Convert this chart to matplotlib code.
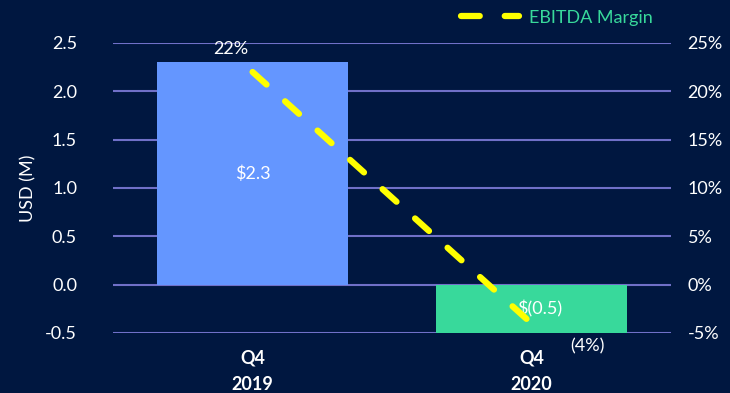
import matplotlib.pyplot as plt
from matplotlib.ticker import FuncFormatter

# data
quarters = ['Q4\n2019', 'Q4\n2020']
ebitda = [2.3, -0.5]
ebitda_labels = ['$2.3', '$(0.5)']
margin = [22, -4]
margin_labels = ['22%', '(4%)']

BG = '#001740'
GRID = '#7070C8'
WHITE = '#FFFFFF'
BAR_COLORS = ['#6496FF', '#38D99B']
FS = 13

plt.rcParams['font.family'] = ['Lato', 'DejaVu Sans']

fig = plt.figure(figsize=(7.3, 3.93), dpi=100, facecolor=BG)
ax = fig.add_axes([0.155, 0.1527, 0.764, 0.7379], facecolor=BG)
x = list(range(len(quarters)))

ax.set_ylim(-0.5, 2.5)
ax.set_xlim(-0.5, 1.5)
ax.set_yticks([-0.5, 0.0, 0.5, 1.0, 1.5, 2.0, 2.5])
ax.yaxis.set_major_formatter(FuncFormatter(lambda v, p: f'{v:.1f}'))
ax.grid(axis='y', color=GRID, linewidth=1.5)
ax.set_axisbelow(True)
bars = ax.bar(x, ebitda, width=0.685, color=BAR_COLORS, zorder=2)
for xi, v, lab in zip(x, ebitda, ebitda_labels):
    ax.text(xi + (0.03 if v < 0 else 0), v / 2, lab, ha='center', va='center',
            color=WHITE, fontsize=FS, zorder=5)

ax.set_xticks(x)
ax.set_xticklabels(quarters, fontweight='bold', fontsize=FS, color=WHITE, linespacing=1.7)
ax.tick_params(axis='x', length=0, pad=12)
ax.tick_params(axis='y', length=0, colors=WHITE, labelsize=FS, pad=26)
ax.set_ylabel('USD (M)', color=WHITE, fontsize=FS, labelpad=6)
for s in ax.spines.values():
    s.set_visible(False)

ax2 = ax.twinx()
ax2.set_ylim(-5, 25)
ax2.set_yticks([-5, 0, 5, 10, 15, 20, 25])
ax2.yaxis.set_major_formatter(FuncFormatter(lambda v, p: f'{v:.0f}%'))
ax2.tick_params(axis='y', length=0, colors=WHITE, labelsize=FS, pad=12)
for s in ax2.spines.values():
    s.set_visible(False)
line, = ax2.plot(x, margin, color='#FFFF00', linewidth=4.5, linestyle=(0, (3, 4)),
                 dash_capstyle='round', solid_capstyle='round', zorder=4,
                 label='EBITDA Margin')
ax2.text(x[0] - 0.08, margin[0] + 1.5, margin_labels[0], ha='center', va='bottom',
         color=WHITE, fontsize=FS)
ax2.text(x[1] + 0.2, margin[1] - 1.6, margin_labels[1], ha='center', va='top',
         color=WHITE, fontsize=FS)

leg = fig.legend(handles=[line], loc='center right', bbox_to_anchor=(0.917, 0.955),
                 frameon=False, fontsize=FS, handlelength=3.2, handletextpad=0.6)
for t in leg.get_texts():
    t.set_color('#38D99B')

fig.savefig('out.png', dpi=100, facecolor=BG)
